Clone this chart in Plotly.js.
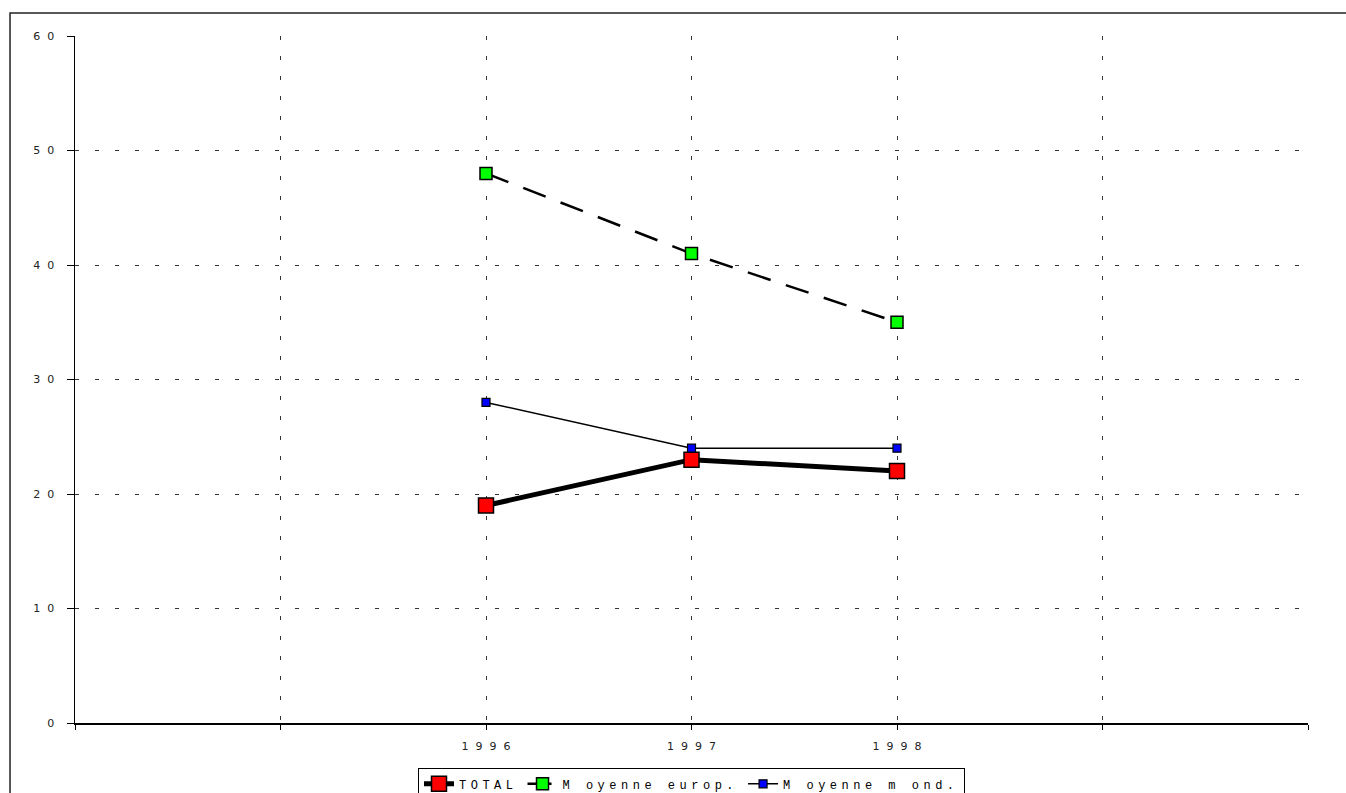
<!DOCTYPE html>
<html><head><meta charset="utf-8">
<script src="https://cdn.plot.ly/plotly-3.0.1.min.js"></script>
<style>
html,body{margin:0;padding:0;background:#fff;}
#chart{width:1346px;height:793px;}
text.legendtext{letter-spacing:4.5px;}
</style>
</head><body><div id="chart"></div>
<script>
const years = [1996, 1997, 1998];
const total = [19, 23, 22];
const moyEurop = [48, 41, 35];
const moyMond = [28, 24, 24];
const xTickVals = [1994, 1995, 1996, 1997, 1998, 1999, 2000];
const xTickText = ['', '', '1\u00a0\u00a09\u00a0\u00a09\u00a0\u00a06', '1\u00a0\u00a09\u00a0\u00a09\u00a0\u00a07', '1\u00a0\u00a09\u00a0\u00a09\u00a0\u00a08', '', ''];
const yTickVals = [0, 10, 20, 30, 40, 50, 60];
const yTickText = ['0', '1\u00a0\u00a00', '2\u00a0\u00a00', '3\u00a0\u00a00', '4\u00a0\u00a00', '5\u00a0\u00a00', '6\u00a0\u00a00'];
const names = ['TOTAL', 'M oyenne europ.', 'M oyenne m ond.'];

const traces = [
  {x: years, y: total, name: names[0], type: 'scatter', mode: 'lines+markers',
   line: {color: '#000', width: 5},
   marker: {symbol: 'square', size: 15, color: '#ff0000', line: {color: '#000', width: 1.5}}},
  {x: years, y: moyEurop, name: names[1], type: 'scatter', mode: 'lines+markers',
   line: {color: '#000', width: 2.5, dash: '24px,16px'},
   marker: {symbol: 'square', size: 12, color: '#00ff00', line: {color: '#000', width: 1.5}}},
  {x: years, y: moyMond, name: names[2], type: 'scatter', mode: 'lines+markers',
   line: {color: '#000', width: 1.5},
   marker: {symbol: 'square', size: 8, color: '#0000ff', line: {color: '#000', width: 1.2}}}
];

const layout = {
  width: 1346, height: 793,
  margin: {l: 75, r: 38, t: 36, b: 70, autoexpand: false},
  paper_bgcolor: '#fff', plot_bgcolor: '#fff',
  showlegend: true,
  legend: {orientation: 'h', x: 0.5, xanchor: 'center', y: -0.066, yanchor: 'top',
    bordercolor: '#000', borderwidth: 1, bgcolor: '#fff',
    font: {family: 'Liberation Mono, monospace', size: 12, color: '#000'},
    itemwidth: 30, tracegroupgap: 0},
  xaxis: {range: [1994, 2000], tickmode: 'array', tickvals: xTickVals, ticktext: xTickText,
    showgrid: true, gridcolor: '#333', griddash: '4px,16px', gridwidth: 1,
    showline: true, linecolor: '#000', linewidth: 1.5,
    ticks: 'outside', ticklen: 5, tickcolor: '#000', tickwidth: 1,
    ticklabelstandoff: 7,
    zeroline: false, fixedrange: true,
    tickfont: {family: 'DejaVu Sans, sans-serif', size: 11, color: '#222'}},
  yaxis: {range: [0, 60], tickmode: 'array', tickvals: yTickVals, ticktext: yTickText,
    showgrid: true, gridcolor: '#333', griddash: '4px,16px', gridwidth: 1,
    showline: true, linecolor: '#000', linewidth: 1.5,
    ticks: 'outside', ticklen: 7, tickcolor: '#000', tickwidth: 1,
    ticklabelstandoff: 10,
    zeroline: false, fixedrange: true,
    tickfont: {family: 'DejaVu Sans, sans-serif', size: 11, color: '#222'}},
  shapes: [
    {type: 'rect', xref: 'paper', yref: 'paper', x0: -0.0527, x1: 1.2, y0: -0.3, y1: 1.0335,
     line: {color: '#222', width: 1.5}, fillcolor: 'rgba(0,0,0,0)', layer: 'below'}
  ]
};

Plotly.newPlot('chart', traces, layout, {displayModeBar: false, staticPlot: true});
</script>
</body></html>
